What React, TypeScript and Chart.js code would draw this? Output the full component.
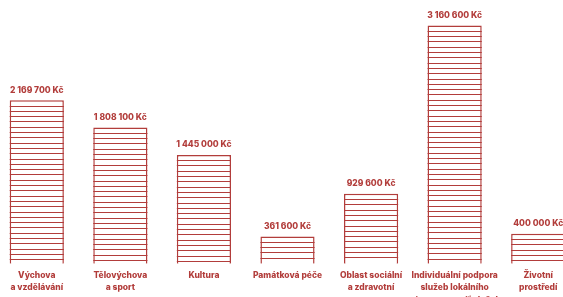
import React, { useEffect, useRef } from "react";
import { Chart, registerables } from "chart.js";

Chart.register(...registerables);

const categories: string[][] = [
  ["Výchova", "a vzdělávání"],
  ["Tělovýchova", "a sport"],
  ["Kultura"],
  ["Památková péče"],
  ["Oblast sociální", "a zdravotní"],
  ["Individuální podpora", "služeb lokálního", "významu — síť služeb"],
  ["Životní", "prostředí"],
];
const amounts: number[] = [2169700, 1808100, 1445000, 361600, 929600, 3160600, 400000];
const amountLabels: string[] = [
  "2 169 700 Kč",
  "1 808 100 Kč",
  "1 445 000 Kč",
  "361 600 Kč",
  "929 600 Kč",
  "3 160 600 Kč",
  "400 000 Kč",
];

const RED = "#b23d3b";
const FONT = "Inter, 'Open Sans', sans-serif";

const hatchPlugin = {
  id: "hatchAndLabels",
  afterDatasetsDraw(chart: any) {
    const ctx = chart.ctx as CanvasRenderingContext2D;
    const meta = chart.getDatasetMeta(0);
    ctx.save();
    meta.data.forEach((bar: any, i: number) => {
      const { x, y, base, width } = bar.getProps(["x", "y", "base", "width"], true);
      const left = x - width / 2;
      const right = x + width / 2;
      ctx.strokeStyle = RED;
      ctx.lineWidth = 1;
      const step = 5.3;
      for (let yy = y + step; yy < base - 2; yy += step) {
        const py = Math.round(yy) + 0.5;
        ctx.beginPath();
        ctx.moveTo(left, py);
        ctx.lineTo(right, py);
        ctx.stroke();
      }
      ctx.fillStyle = RED;
      ctx.font = `800 8.5px ${FONT}`;
      ctx.textAlign = "center";
      ctx.textBaseline = "middle";
      ctx.fillText(amountLabels[i], x, y - 10);
    });
    ctx.restore();
  },
};

export default function App() {
  const ref = useRef<HTMLCanvasElement | null>(null);
  useEffect(() => {
    if (!ref.current) return;
    const chart = new Chart(ref.current, {
      type: "bar",
      data: {
        labels: categories,
        datasets: [
          {
            data: amounts,
            backgroundColor: "#ffffff",
            borderColor: RED,
            borderWidth: 1.5,
            barPercentage: 0.8,
            categoryPercentage: 0.81,
          },
        ],
      },
      options: {
        animation: false,
        responsive: false,
        maintainAspectRatio: false,
        layout: { padding: 0 },
        plugins: {
          legend: { display: false },
          tooltip: { enabled: false },
        },
        scales: {
          x: {
            grid: { display: false, drawTicks: false },
            border: { display: false },
            ticks: {
              color: RED,
              autoSkip: false,
              maxRotation: 0,
              padding: 6,
              font: { family: FONT, size: 8.5, weight: "800", lineHeight: 1.42 },
            },
          },
          y: {
            display: false,
            min: 0,
            max: 3500000,
          },
        },
      },
      plugins: [hatchPlugin],
    });
    return () => chart.destroy();
  }, []);
  return (
    <div style={{ position: "absolute", left: 0, top: 0, width: 563, height: 297, overflow: "hidden", background: "#fff" }}>
      <div style={{ position: "absolute", left: -5, top: 0, width: 585, height: 312 }}>
        <canvas ref={ref} width={585} height={312} style={{ width: 585, height: 312 }} />
      </div>
    </div>
  );
}
